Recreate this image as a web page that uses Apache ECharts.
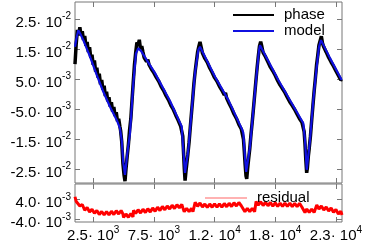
<!DOCTYPE html>
<html><head><meta charset="utf-8">
<script src="https://cdn.jsdelivr.net/npm/echarts@6/dist/echarts.min.js"></script>
<style>html,body{margin:0;padding:0;background:#fff}#c{width:365px;height:249px}</style>
</head><body><div id="c"></div><script>
// ---- data ----
const phaseT = [1000,1100,1200,1300,1400,1500,1600,1700,1800,1900,2000,2100,2200,2300,2400,2500,2600,2700,2800,2900,3000,3100,3200,3300,3400,3500,3600,3700,3800,3900,4000,4100,4200,4300,4400,4500,4600,4700,4760,4850,4950,5050,5120,5200,5300,5400,5500,5600,5700,5800,5900,6000,6100,6200,6300,6400,6500,
6600,6700,6800,6900,7000,7100,7200,7300,7400,7500,7600,7700,7800,7900,8000,8100,8200,8300,8400,8500,8600,8700,8800,8900,9000,9100,9200,9300,9400,9500,9600,9700,9800,9880,9950,10010,10070,10130,10200,10300,10400,10500,10600,10700,10800,10900,11000,11100,11200,11300,11400,
11500,11600,11700,11800,11900,12000,12100,12200,12300,12400,12500,12600,12700,12800,12900,13000,13100,13200,13300,13400,13500,13600,13700,13800,13900,14000,14100,14200,14300,14400,14500,14600,14700,14800,14880,14950,15020,15090,15150,15220,15300,15400,15500,15600,15700,15800,15900,16000,16100,16200,16300,16400,
16500,16600,16700,16800,16900,17000,17100,17200,17300,17400,17500,17600,17700,17800,17900,18000,18100,18200,18300,18400,18500,18600,18700,18800,18900,19000,19100,19200,19300,19400,19500,19600,19700,19800,19880,19950,20020,20090,20150,20230,20300,20400,20500,20600,20700,20800,20900,21000,21100,21200,21300,21400,
21500,21600,21700,21800,21900,22000,22100,22200,22300,22400,22500,22600,22700,22800,22900,23000];
const phaseV = [0.0100,0.0168,0.0214,0.0196,0.0223,0.0195,0.0210,0.0180,0.0194,0.0161,0.0174,0.0140,0.0156,0.0121,0.0131,0.0098,0.0112,0.0075,0.0088,0.0055,0.0068,0.0033,0.0047,0.0015,0.0028,-0.0006,0.0008,-0.0024,-0.0010,-0.0041,-0.0027,-0.0058,-0.0043,-0.0073,-0.0060,-0.0090,-0.0082,-0.0108,-0.0122,-0.0158,-0.0232,-0.0272,-0.0290,-0.0250,-0.0207,-0.0168,-0.0118,-0.0082,-0.0020,0.0040,0.0098,0.0138,0.0172,0.0165,0.0181,0.0150,0.0160,
0.0140,0.0122,0.0125,0.0108,0.0115,0.0098,0.0100,0.0083,0.0085,0.0071,0.0076,0.0056,0.0059,0.0043,0.0045,0.0025,0.0030,0.0012,0.0013,-0.0005,-0.0001,-0.0019,-0.0016,-0.0037,-0.0031,-0.0051,-0.0051,-0.0070,-0.0070,-0.0087,-0.0084,-0.0106,-0.0104,-0.0140,-0.0200,-0.0250,-0.0288,-0.0262,-0.0236,-0.0200,-0.0160,-0.0110,-0.0062,-0.0015,0.0036,0.0075,0.0108,0.0140,0.0158,0.0174,0.0156,
0.0137,0.0138,0.0119,0.0125,0.0106,0.0106,0.0087,0.0088,0.0072,0.0076,0.0055,0.0059,0.0043,0.0046,0.0026,0.0031,0.0013,0.0015,-0.0003,0.0004,-0.0014,-0.0012,-0.0031,-0.0031,-0.0047,-0.0044,-0.0066,-0.0063,-0.0081,-0.0079,-0.0101,-0.0097,-0.0116,-0.0117,-0.0150,-0.0190,-0.0235,-0.0272,-0.0282,-0.0250,-0.0218,-0.0182,-0.0135,-0.0094,-0.0050,-0.0004,0.0042,0.0086,0.0125,0.0160,0.0175,0.0158,
0.0138,0.0142,0.0124,0.0127,0.0107,0.0110,0.0090,0.0093,0.0077,0.0080,0.0062,0.0066,0.0045,0.0049,0.0030,0.0034,0.0018,0.0022,0.0005,0.0009,-0.0011,-0.0007,-0.0026,-0.0022,-0.0038,-0.0034,-0.0051,-0.0047,-0.0067,-0.0063,-0.0082,-0.0078,-0.0094,-0.0090,-0.0125,-0.0165,-0.0220,-0.0262,-0.0245,-0.0205,-0.0180,-0.0140,-0.0088,-0.0040,0.0008,0.0050,0.0096,0.0128,0.0163,0.0178,0.0193,0.0168,
0.0157,0.0161,0.0140,0.0143,0.0122,0.0126,0.0107,0.0110,0.0093,0.0098,0.0077,0.0081,0.0062,0.0064,0.0047,0.0049];

const modelT = [1000,1124,1272,1412,1684,2236,2788,3332,3884,4436,4708,4848,4980,5120,5310,5532,5804,6026,6216,6438,7592,8828,9792,9924,10064,10336,10616,10888,11160,11300,12536,13632,14786,14868,15008,15107,15420,15692,15972,16162,16244,17752,19812,19952,20092,20364,20636,20916,21106,21270,22012,22976];
const modelV = [0.0158,0.0187,0.0213,0.0203,0.0180,0.0125,0.0064,0.0008,-0.0042,-0.0086,-0.0114,-0.0153,-0.0230,-0.0269,-0.0197,-0.0130,0.0036,0.0136,0.0153,0.0144,0.0070,-0.0023,-0.0108,-0.0186,-0.0262,-0.0186,-0.0053,0.0070,0.0147,0.0158,0.0058,-0.0019,-0.0119,-0.0129,-0.0209,-0.0259,-0.0175,-0.0053,0.0069,0.0147,0.0163,0.0047,-0.0097,-0.0153,-0.0252,-0.0153,-0.0019,0.0091,0.0158,0.0180,0.0120,0.0047];

const residT = [1000,1100,1200,1400,1600,1800,2000,2200,2400,2600,2800,3000,3200,3400,3600,3800,4000,4200,4400,4600,4800,4950,5000,5200,5400,5600,5780,5820,6000,6200,6400,6600,6800,7000,7200,7400,7600,7800,8000,8200,8400,8600,8800,9000,9200,9400,9600,9800,9900,10000,10200,10400,10600,10720,10900,11100,11300,11500,11700,11900,12100,12300,12500,12700,12900,13100,13300,13500,13700,13900,14100,14300,14500,14700,14850,15000,15200,15400,15600,15800,15920,16100,16300,16500,16700,16900,17100,17300,17500,17700,17900,18100,18300,18500,18700,18900,19100,19300,19500,19680,19950,20100,20300,20500,20700,20920,21100,21300,21500,21700,21900,22100,22300,22500,22700,22900,23000];
const residV = [0.0050,0.0031,0.0039,0.0013,0.0019,-0.0004,0.0007,-0.0011,0.0000,-0.0016,-0.0005,-0.0021,-0.0009,-0.0023,-0.0009,-0.0023,-0.0008,-0.0021,-0.0006,-0.0019,-0.0005,-0.0019,-0.0033,-0.0019,-0.0032,-0.0017,-0.0031,-0.0004,-0.0017,-0.0002,-0.0015,0.0000,-0.0013,0.0002,-0.0011,0.0005,-0.0008,0.0008,-0.0005,0.0011,-0.0002,0.0013,0.0001,0.0016,0.0003,0.0018,0.0006,0.0019,0.0004,-0.0010,0.0004,-0.0010,0.0004,-0.0010,0.0028,0.0012,0.0025,0.0009,0.0021,0.0007,0.0021,0.0008,0.0022,0.0008,0.0022,0.0008,0.0023,0.0010,0.0024,0.0011,0.0026,0.0013,0.0027,0.0014,0.0022,-0.0010,0.0004,-0.0010,0.0004,-0.0010,0.0031,0.0017,0.0030,0.0015,0.0028,0.0014,0.0027,0.0012,0.0026,0.0011,0.0025,0.0011,0.0025,0.0011,0.0025,0.0010,0.0024,0.0010,0.0024,0.0010,-0.0013,0.0001,-0.0013,0.0001,-0.0013,0.0017,0.0001,0.0013,-0.0003,0.0009,-0.0007,0.0005,-0.0012,-0.0001,-0.0019,-0.0008,-0.0023];

const xTicks = [2500,7500,12500,17500,22500];
const xTickMant = ['2.5','7.5','1.2','1.8','2.3'];
const xTickExp = ['3','3','4','4','4'];
const yTicks = [-0.025,-0.015,-0.005,0.005,0.015,0.025];
const yTickMant = ['-2.5','-1.5','-5.0','5.0','1.5','2.5'];
const yTickExp = ['-2','-2','-3','-3','-2','-2'];
const rTicks = [-0.004,0.004];
const rTickMant = ['-4.0','4.0'];
const rTickExp = ['-3','-3'];
// ---------------------------------------

const pairs = (t, v) => t.map((x, i) => [x, v[i]]);
function sci(vals, mant, exps) {
  return function (v) {
    for (let i = 0; i < vals.length; i++) {
      if (Math.abs(v - vals[i]) <= Math.abs(vals[i]) * 1e-6) return '{m|' + mant[i] + '· 10}{e|' + exps[i] + '}';
    }
    return '';
  };
}
const FONT = 'Liberation Sans, Arial, sans-serif';
const rich = {
  m: { fontSize: 15, lineHeight: 22, fontFamily: FONT, color: '#000' },
  e: { fontSize: 10, lineHeight: 10, fontFamily: FONT, color: '#000', verticalAlign: 'top' }
};
const frame = '#777';
const noLine = { show: false, onZero: false };
const tick = (vals) => ({ show: true, inside: true, length: 5, customValues: vals, lineStyle: { color: frame, width: 1 } });
const XMIN = 1000, XMAX = 23000;
const Y0 = [-0.0296, 0.0307], Y1 = [-0.0051, 0.0101];

const chart = echarts.init(document.getElementById('c'), null, { renderer: 'canvas' });
chart.setOption({
  animation: false,
  backgroundColor: '#fff',
  grid: [
    { left: 75, right: 23, top: 2, height: 181, show: true, borderColor: frame, borderWidth: 1, backgroundColor: 'transparent', containLabel: false, outerBoundsMode: 'none' },
    { left: 75, right: 23, top: 184, height: 38, show: true, borderColor: frame, borderWidth: 1, backgroundColor: 'transparent', containLabel: false, outerBoundsMode: 'none' }
  ],
  xAxis: [
    { gridIndex: 0, type: 'value', min: XMIN, max: XMAX, position: 'bottom', axisLine: noLine, splitLine: { show: false }, axisTick: tick(xTicks), axisLabel: { show: false } },
    { gridIndex: 0, type: 'value', min: XMIN, max: XMAX, position: 'top', axisLine: noLine, splitLine: { show: false }, axisTick: tick(xTicks), axisLabel: { show: false } },
    { gridIndex: 1, type: 'value', min: XMIN, max: XMAX, position: 'bottom', axisLine: noLine, splitLine: { show: false }, axisTick: tick(xTicks),
      axisLabel: { show: true, customValues: xTicks, margin: 3, formatter: sci(xTicks, xTickMant, xTickExp), rich: rich } },
    { gridIndex: 1, type: 'value', min: XMIN, max: XMAX, position: 'top', axisLine: noLine, splitLine: { show: false }, axisTick: tick(xTicks), axisLabel: { show: false } }
  ],
  yAxis: [
    { gridIndex: 0, type: 'value', min: Y0[0], max: Y0[1], position: 'left', axisLine: noLine, splitLine: { show: false }, axisTick: tick(yTicks),
      axisLabel: { show: true, customValues: yTicks, margin: 4, padding: [7, 0, 0, 0], formatter: sci(yTicks, yTickMant, yTickExp), rich: rich } },
    { gridIndex: 0, type: 'value', min: Y0[0], max: Y0[1], position: 'right', axisLine: noLine, splitLine: { show: false }, axisTick: tick(yTicks), axisLabel: { show: false } },
    { gridIndex: 1, type: 'value', min: Y1[0], max: Y1[1], position: 'left', axisLine: noLine, splitLine: { show: false }, axisTick: tick(rTicks),
      axisLabel: { show: true, customValues: rTicks, margin: 4, padding: [7, 0, 0, 0], formatter: sci(rTicks, rTickMant, rTickExp), rich: rich } },
    { gridIndex: 1, type: 'value', min: Y1[0], max: Y1[1], position: 'right', axisLine: noLine, splitLine: { show: false }, axisTick: tick(rTicks), axisLabel: { show: false } }
  ],
  legend: [
    { data: [{ name: 'phase', icon: 'rect', itemStyle: { color: '#000' } }, { name: 'model', icon: 'rect', itemStyle: { color: '#1010e0' } }],
      orient: 'vertical', left: 233, top: 7, itemWidth: 41, itemHeight: 2, itemGap: 0, padding: 0,
      textStyle: { fontSize: 15, lineHeight: 16, fontFamily: FONT, color: '#000', padding: [0, 0, 0, 5] } },
    { data: [{ name: 'residual', icon: 'rect', itemStyle: { color: '#f66' } }], left: 205, top: 190, itemWidth: 42, itemHeight: 1, padding: 0,
      textStyle: { fontSize: 15, lineHeight: 16, fontFamily: FONT, color: '#000', padding: [0, 0, 0, 5] } }
  ],
  series: [
    { name: 'phase', type: 'line', xAxisIndex: 0, yAxisIndex: 0, data: pairs(phaseT, phaseV), symbol: 'none', color: '#000', lineStyle: { color: '#000', width: 3.5 }, z: 2, clip: true },
    { name: 'model', type: 'line', xAxisIndex: 0, yAxisIndex: 0, data: pairs(modelT, modelV), symbol: 'none', color: '#1010e0', lineStyle: { color: '#1010e0', width: 2.2 }, z: 3, clip: true },
    { name: 'residual', type: 'line', xAxisIndex: 2, yAxisIndex: 2, data: pairs(residT, residV), symbol: 'none', color: '#f00', lineStyle: { color: '#f00', width: 3 }, z: 2, clip: true }
  ]
});
</script></body></html>
